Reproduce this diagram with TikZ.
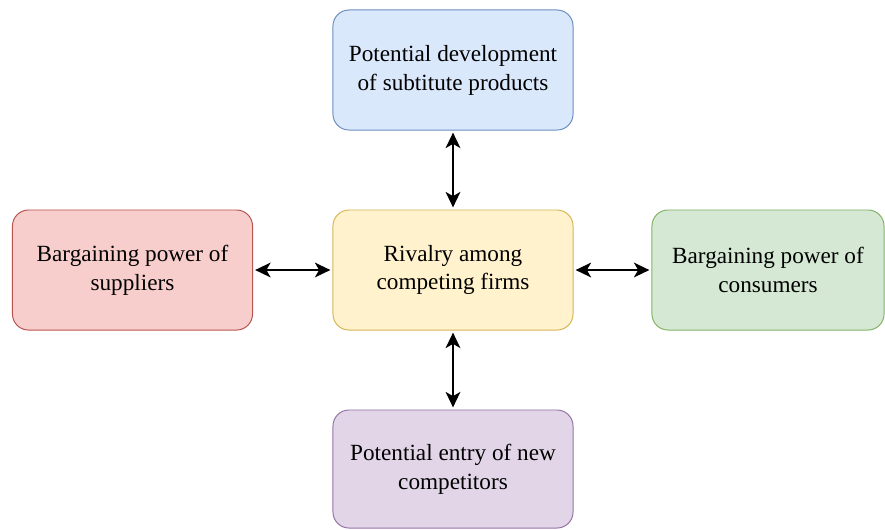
\documentclass[tikz,border=0pt]{standalone}
\usepackage{fontspec}
\setmainfont{Liberation Serif}
\usetikzlibrary{arrows.meta}
\definecolor{bluefill}{HTML}{DAE8FC}
\definecolor{blueline}{HTML}{6C8EBF}
\definecolor{redfill}{HTML}{F8CECC}
\definecolor{redline}{HTML}{B85450}
\definecolor{yellowfill}{HTML}{FFF2CC}
\definecolor{yellowline}{HTML}{D6B656}
\definecolor{greenfill}{HTML}{D5E8D4}
\definecolor{greenline}{HTML}{82B366}
\definecolor{purplefill}{HTML}{E1D5E7}
\definecolor{purpleline}{HTML}{9673A6}
\tikzset{force/.style = {draw, rounded corners = 0.4cm, line width = 0.7pt,
    minimum width = 6cm, minimum height = 3cm, inner sep = 0, align = center,
    font = \fontsize{16.5}{20.5}\selectfont}}
\tikzset{link/.style = {{Stealth[length=11pt, width=10.5pt, inset=3pt]}-{Stealth[length=11pt, width=10.5pt, inset=3pt]},
    line width = 1.2pt, shorten < = 1.5pt, shorten > = 1.5pt}}

\begin{document}
\begin{tikzpicture}[x = 0.025cm, y = -0.025cm]
      \useasboundingbox (0, 0) rectangle (885, 529);

      \node [force, fill=yellowfill, draw=yellowline] (rivalry) at (453, 270) {Rivalry among\\competing firms};
      \node [force, fill=bluefill, draw=blueline] (substitutes) at (453, 70) {Potential development\\of subtitute products};
      \node [force, fill=redfill, draw=redline] (suppliers) at (132.5, 270) {Bargaining power of\\suppliers};
      \node [force, fill=greenfill, draw=greenline, minimum width = 5.8cm] (consumers) at (768, 270) {Bargaining power of\\consumers};
      \node [force, fill=purplefill, draw=purpleline, minimum height = 2.95cm] (entrants) at (453, 469) {Potential entry of new\\competitors};

      \draw [link] (substitutes) -- (rivalry);
      \draw [link] (suppliers) -- (rivalry);
      \draw [link] (rivalry) -- (consumers);
      \draw [link] (rivalry) -- (entrants);
    \end{tikzpicture}
\end{document}
